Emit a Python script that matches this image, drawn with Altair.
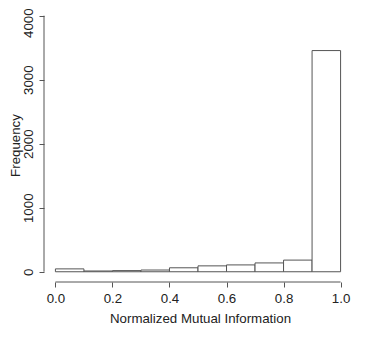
import altair as alt
import pandas as pd

bin_start = [0.0, 0.1, 0.2, 0.3, 0.4, 0.5, 0.6, 0.7, 0.8, 0.9]
bin_end = [0.1, 0.2, 0.3, 0.4, 0.5, 0.6, 0.7, 0.8, 0.9, 1.0]
counts = [45, 12, 18, 27, 62, 92, 107, 138, 182, 3455]

x_ticks = [0.0, 0.2, 0.4, 0.6, 0.8, 1.0]
y_ticks = [0, 1000, 2000, 3000, 4000]

df = pd.DataFrame({"start": bin_start, "end": bin_end, "count": counts})

W, H = 308, 274
FONT = "Liberation Sans"
LINE = "#555555"
TEXT = "#222222"
FS = 13.3

xscale = alt.Scale(domain=[-0.04, 1.04], nice=False, zero=False)
yscale = alt.Scale(domain=[-160, 4120], nice=False, zero=False)

bars = alt.Chart(df).mark_rect(fill="white", stroke=LINE, strokeWidth=1).encode(
    x=alt.X("start:Q", scale=xscale,
            axis=alt.Axis(values=x_ticks, format=".1f", title="Normalized Mutual Information",
                          domain=False, grid=False, tickSize=5, tickColor=LINE,
                          labelPadding=4, labelBaseline="top",
                          titleX=156, titleY=36, titleBaseline="middle", titleAlign="center")),
    x2="end:Q",
    y=alt.Y("count:Q", scale=yscale,
            axis=alt.Axis(values=y_ticks, format="d", title="Frequency",
                          domain=False, grid=False, tickSize=5, tickColor=LINE,
                          labelAngle=270, labelAlign="center", labelBaseline="bottom",
                          labelPadding=4,
                          labelOffset={"condition": {"test": "datum.value == 4000", "value": 7}, "value": 0},
                          titleAngle=270, titleX=-36, titleY=H / 2,
                          titleAlign="center", titleBaseline="top")),
    y2=alt.datum(0),
)

yline = alt.Chart(pd.DataFrame({"a": [0]})).mark_rule(color=LINE, strokeWidth=1).encode(
    x=alt.value(0), y=alt.datum(0, scale=yscale), y2=alt.datum(4000)
)
xline = alt.Chart(pd.DataFrame({"a": [0]})).mark_rule(color=LINE, strokeWidth=1).encode(
    y=alt.value(H), x=alt.datum(0.0, scale=xscale), x2=alt.datum(1.0)
)

chart = alt.layer(bars, yline, xline).properties(
    width=W, height=H,
    padding={"left": 36, "top": 0, "right": 14, "bottom": 47},
    autosize=alt.AutoSizeParams(type="none"),
).configure_view(stroke=None).configure_axis(
    labelFont=FONT, titleFont=FONT, labelFontSize=FS, titleFontSize=FS,
    labelColor=TEXT, titleColor=TEXT, titleFontWeight="normal",
)

chart.save("out.html", embed_options={"renderer": "svg", "actions": False})
